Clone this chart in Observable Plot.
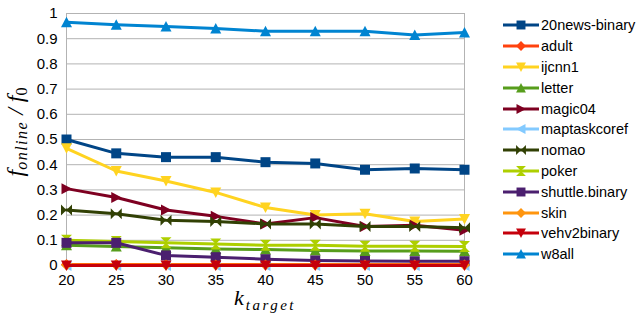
<!DOCTYPE html>
<html><head><meta charset="utf-8">
<script src="https://cdn.jsdelivr.net/npm/d3@7"></script>
<script src="https://cdn.jsdelivr.net/npm/@observablehq/plot@0.6"></script>
<style>
body{margin:0;background:#fff;}
#wrap{position:relative;width:638px;height:314px;font-family:"Liberation Sans",Arial,sans-serif;}
#legend{position:absolute;left:503px;top:15px;font-size:14.5px;color:#000;}
#legend .row{height:20.8px;display:flex;align-items:center;white-space:nowrap;}
#legend svg{margin-right:2px;}
</style></head>
<body><div id="wrap"><div id="chart"></div><div id="legend"></div></div>
<script>
const kTarget = [20, 25, 30, 35, 40, 45, 50, 55, 60];
const seriesNames = ["20news-binary","adult","ijcnn1","letter","magic04","maptaskcoref","nomao","poker","shuttle.binary","skin","vehv2binary","w8all"];
const colors = ["#004586","#ff420e","#ffd320","#579d1c","#7e0021","#83caff","#314004","#aecf00","#4b1f6f","#ff950e","#c5000b","#0084d1"];
const news20   = [0.50, 0.445, 0.43, 0.43, 0.41, 0.405, 0.38, 0.385, 0.38];
const adult    = [0.004, 0.004, 0.004, 0.004, 0.004, 0.004, 0.004, 0.004, 0.004];
const ijcnn1   = [0.465, 0.375, 0.335, 0.29, 0.23, 0.20, 0.205, 0.175, 0.185];
const letter   = [0.08, 0.075, 0.07, 0.065, 0.063, 0.06, 0.058, 0.058, 0.057];
const magic04  = [0.305, 0.27, 0.22, 0.195, 0.165, 0.19, 0.155, 0.16, 0.14];
const maptask  = [0.0, 0.0, 0.0, 0.0, 0.0, 0.0, 0.0, 0.0, 0.0];
const nomao    = [0.22, 0.205, 0.18, 0.175, 0.165, 0.165, 0.155, 0.155, 0.15];
const poker    = [0.10, 0.095, 0.09, 0.085, 0.08, 0.08, 0.076, 0.076, 0.075];
const shuttle  = [0.09, 0.09, 0.04, 0.033, 0.025, 0.02, 0.018, 0.017, 0.017];
const skin     = [0.002, 0.002, 0.002, 0.002, 0.002, 0.002, 0.002, 0.002, 0.002];
const vehv2    = [0.0, 0.0, 0.0, 0.0, 0.0, 0.0, 0.0, 0.0, 0.0];
const w8all    = [0.965, 0.955, 0.948, 0.94, 0.93, 0.93, 0.93, 0.915, 0.925];
const allValues = [news20, adult, ijcnn1, letter, magic04, maptask, nomao, poker, shuttle, skin, vehv2, w8all];
const yTicks = [0,0.1,0.2,0.3,0.4,0.5,0.6,0.7,0.8,0.9,1];

function poly(pts){return {draw(ctx,size){const r=Math.sqrt(size/Math.PI);ctx.moveTo(pts[0][0]*r,pts[0][1]*r);for(let i=1;i<pts.length;i++)ctx.lineTo(pts[i][0]*r,pts[i][1]*r);ctx.closePath();}};}
const sq = poly([[-1,-1],[1,-1],[1,1],[-1,1]]);
const dia = poly([[0,-1.1],[1.1,0],[0,1.1],[-1.1,0]]);
const tDown = poly([[-1.1,-1],[1.1,-1],[0,1.1]]);
const tUp = poly([[-1.1,1],[1.1,1],[0,-1.1]]);
const tRight = poly([[-1,-1.1],[-1,1.1],[1.1,0]]);
const tLeft = poly([[1,-1.1],[1,1.1],[-1.1,0]]);
const bowH = poly([[-1.1,-1.1],[0,0],[1.1,-1.1],[1.1,1.1],[0,0],[-1.1,1.1]]);
const bowV = poly([[-1.1,-1.1],[1.1,-1.1],[0,0],[1.1,1.1],[-1.1,1.1],[0,0]]);
const symbols = [sq, dia, tDown, tUp, tRight, tLeft, bowH, bowV, sq, dia, tDown, tUp];

const rows = [];
seriesNames.forEach((n,i)=>kTarget.forEach((k,j)=>rows.push({name:n,k,v:allValues[i][j],idx:i})));

const marks = [
  Plot.gridY(yTicks,{stroke:"#b3b3b3",strokeOpacity:1}),
  Plot.frame({stroke:"#b3b3b3"})
];
seriesNames.forEach((n,i)=>{
  const d = rows.filter(r=>r.idx===i);
  marks.push(Plot.line(d,{x:"k",y:"v",stroke:colors[i],strokeWidth:3}));
  marks.push(Plot.dot(d,{x:"k",y:"v",fill:colors[i],stroke:"none",r:5,symbol:symbols[i]}));
});
marks.push(Plot.axisY(yTicks,{tickSize:0,tickPadding:9,tickFormat:d=>d3.format("~g")(d),fontSize:15,label:null}));
marks.push(Plot.axisX(kTarget,{tickSize:0,tickPadding:9,fontSize:15,label:null}));

const chart = Plot.plot({
  width:490,height:314,marginLeft:66,marginRight:26,marginTop:13,marginBottom:49,
  style:{fontFamily:"Liberation Sans, Arial, sans-serif",color:"#000",background:"#fff"},
  x:{domain:[20,60]},y:{domain:[0,1]},
  marks
});
document.getElementById("chart").appendChild(chart);

// math-style axis titles
const svg = d3.select(chart);
const xs = chart.scale("x");
const xl = svg.append("text").attr("x",(xs.apply(20)+xs.apply(60))/2).attr("y",305)
  .attr("text-anchor","middle").style("font-family","Liberation Serif, serif").style("font-style","italic").style("font-size","22px");
xl.append("tspan").text("k");
xl.append("tspan").attr("dy",5).attr("dx",2).style("font-size","15px").style("letter-spacing","2.5px").text("target");
const yl = svg.append("text").attr("transform",`translate(23,132) rotate(-90)`)
  .attr("text-anchor","middle").style("font-family","Liberation Serif, serif").style("font-style","italic").style("font-size","24px");
yl.append("tspan").text("f");
yl.append("tspan").attr("dy",4).style("font-size","16px").style("letter-spacing","1.5px").text("online");
yl.append("tspan").attr("dy",-4).text(" / f");
yl.append("tspan").attr("dy",4).style("font-size","16px").style("font-style","normal").text("0");

// legend
const leg = d3.select("#legend");
seriesNames.forEach((n,i)=>{
  const row = leg.append("div").attr("class","row");
  const s = row.append("svg").attr("width",36).attr("height",14);
  s.append("line").attr("x1",0).attr("x2",36).attr("y1",7).attr("y2",7).attr("stroke",colors[i]).attr("stroke-width",3);
  s.append("path").attr("transform","translate(18,7)").attr("fill",colors[i]).attr("d",d3.symbol(symbols[i],20*Math.PI)());
  row.append("span").text(n);
});
</script></body></html>
